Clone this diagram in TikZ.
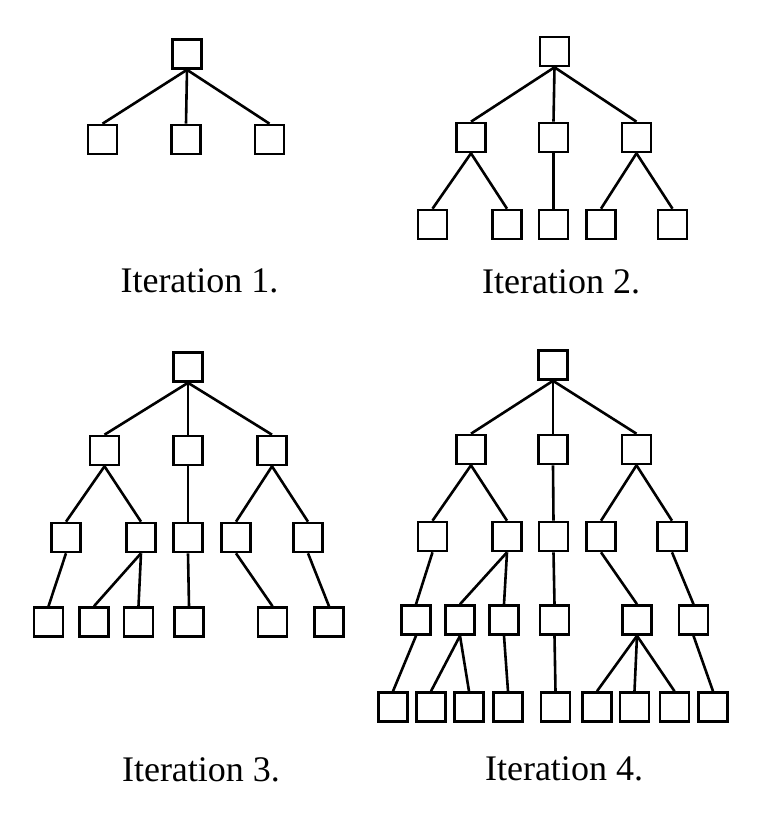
\documentclass[tikz,border=0pt]{standalone}
\usepackage{fontspec}
\setmainfont{Liberation Serif}
\begin{document}
\begin{tikzpicture}[x=1pt,y=-1pt,
        box/.style={draw,line width=2.6pt,minimum size=29pt,inner sep=0pt},
        link/.style={line width=2.6pt},
        caption/.style={anchor=base,inner sep=0pt,font=\fontsize{36}{40}\selectfont}]
        \useasboundingbox (0,0) rectangle (768,836);
        % iteration 1
        \node[box] (ar) at (187,54) {};
        \node[box] (a1) at (102.5,139.5) {};
        \node[box] (a2) at (186,139.5) {};
        \node[box] (a3) at (269.5,139.5) {};
        \draw[link] (ar.south) -- (a1.north);
        \draw[link] (ar.south) -- (a2.north);
        \draw[link] (ar.south) -- (a3.north);
        \node[caption] (capa) at (199.5,292) {Iteration 1.};
        % iteration 2
        \node[box] (br) at (554.5,51.5) {};
        \node[box] (b1) at (471,137.5) {};
        \node[box] (b2) at (553.5,137.5) {};
        \node[box] (b3) at (636.5,137.5) {};
        \node[box] (b11) at (432.5,224.5) {};
        \node[box] (b12) at (507,224.5) {};
        \node[box] (b21) at (553.5,224.5) {};
        \node[box] (b31) at (601,224.5) {};
        \node[box] (b32) at (672.5,224.5) {};
        \draw[link] (br.south) -- (b1.north);
        \draw[link] (br.south) -- (b2.north);
        \draw[link] (br.south) -- (b3.north);
        \draw[link] (b1.south) -- (b11.north);
        \draw[link] (b1.south) -- (b12.north);
        \draw[link] (b2.south) -- (b21.north);
        \draw[link] (b3.south) -- (b31.north);
        \draw[link] (b3.south) -- (b32.north);
        \node[caption] (capb) at (561,293) {Iteration 2.};
        % iteration 3
        \node[box] (cr) at (188,367) {};
        \node[box] (c1) at (104.5,450.5) {};
        \node[box] (c2) at (188,450.5) {};
        \node[box] (c3) at (272,450.5) {};
        \node[box] (c11) at (66,537.5) {};
        \node[box] (c12) at (141,537.5) {};
        \node[box] (c21) at (188,537.5) {};
        \node[box] (c31) at (236,537.5) {};
        \node[box] (c32) at (308,537.5) {};
        \node[box] (c111) at (48.5,622) {};
        \node[box] (c121) at (94,622) {};
        \node[box] (c122) at (138.5,622) {};
        \node[box] (c211) at (189,622) {};
        \node[box] (c311) at (272.5,622) {};
        \node[box] (c321) at (329,622) {};
        \draw[link] (cr.south) -- (c1.north);
        \draw[link] (cr.south) -- (c2.north);
        \draw[link] (cr.south) -- (c3.north);
        \draw[link] (c1.south) -- (c11.north);
        \draw[link] (c1.south) -- (c12.north);
        \draw[link] (c2.south) -- (c21.north);
        \draw[link] (c3.south) -- (c31.north);
        \draw[link] (c3.south) -- (c32.north);
        \draw[link] (c11.south) -- (c111.north);
        \draw[link] (c12.south) -- (c121.north);
        \draw[link] (c12.south) -- (c122.north);
        \draw[link] (c21.south) -- (c211.north);
        \draw[link] (c31.south) -- (c311.north);
        \draw[link] (c32.south) -- (c321.north);
        \node[caption] (capc) at (201,781) {Iteration 3.};
        % iteration 4
        \node[box] (dr) at (553,365) {};
        \node[box] (d1) at (471,449.5) {};
        \node[box] (d2) at (553,449.5) {};
        \node[box] (d3) at (636.5,449.5) {};
        \node[box] (d11) at (432.5,536.5) {};
        \node[box] (d12) at (507,536.5) {};
        \node[box] (d21) at (553.5,536.5) {};
        \node[box] (d31) at (601,536.5) {};
        \node[box] (d32) at (672,536.5) {};
        \node[box] (d111) at (416,620) {};
        \node[box] (d121) at (460,620) {};
        \node[box] (d122) at (504,620) {};
        \node[box] (d211) at (554.5,620) {};
        \node[box] (d311) at (637,620) {};
        \node[box] (d321) at (693.5,620) {};
        \node[box] (d1111) at (393,707) {};
        \node[box] (d1211) at (431,707) {};
        \node[box] (d1212) at (469,707) {};
        \node[box] (d1221) at (508,707) {};
        \node[box] (d2111) at (555.5,707) {};
        \node[box] (d3111) at (597,707) {};
        \node[box] (d3112) at (634.5,707) {};
        \node[box] (d3113) at (674.5,707) {};
        \node[box] (d3211) at (713,707) {};
        \draw[link] (dr.south) -- (d1.north);
        \draw[link] (dr.south) -- (d2.north);
        \draw[link] (dr.south) -- (d3.north);
        \draw[link] (d1.south) -- (d11.north);
        \draw[link] (d1.south) -- (d12.north);
        \draw[link] (d2.south) -- (d21.north);
        \draw[link] (d3.south) -- (d31.north);
        \draw[link] (d3.south) -- (d32.north);
        \draw[link] (d11.south) -- (d111.north);
        \draw[link] (d12.south) -- (d121.north);
        \draw[link] (d12.south) -- (d122.north);
        \draw[link] (d21.south) -- (d211.north);
        \draw[link] (d31.south) -- (d311.north);
        \draw[link] (d32.south) -- (d321.north);
        \draw[link] (d111.south) -- (d1111.north);
        \draw[link] (d121.south) -- (d1211.north);
        \draw[link] (d121.south) -- (d1212.north);
        \draw[link] (d122.south) -- (d1221.north);
        \draw[link] (d211.south) -- (d2111.north);
        \draw[link] (d311.south) -- (d3111.north);
        \draw[link] (d311.south) -- (d3112.north);
        \draw[link] (d311.south) -- (d3113.north);
        \draw[link] (d321.south) -- (d3211.north);
        \node[caption] (capd) at (564,780) {Iteration 4.};
\end{tikzpicture}
\end{document}
